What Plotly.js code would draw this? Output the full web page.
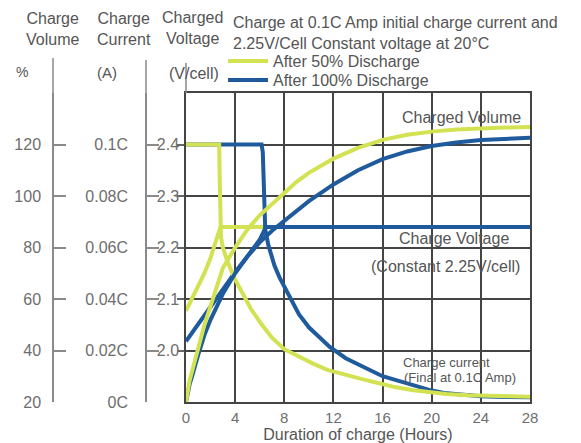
<!DOCTYPE html>
<html>
<head>
<meta charset="utf-8">
<script src="https://cdn.plot.ly/plotly-3.0.1.min.js"></script>
<style>
  html, body { margin: 0; padding: 0; background: #ffffff; }
  #chart { width: 581px; height: 443px; }
</style>
</head>
<body>
<div id="chart"></div>
<script>
// ---- Data ----
// Hours axis ticks
const hourTicks = [0, 4, 8, 12, 16, 20, 24, 28];

// Charge voltage (V/cell)
const voltHours50 = [0, 0.5, 1, 1.5, 2, 2.5, 2.8, 28];
const volt50      = [2.077, 2.1, 2.125, 2.15, 2.18, 2.215, 2.24, 2.24];
const voltHours100 = [0, 1, 2, 3, 4, 5, 6, 6.5, 28];
const volt100      = [2.018, 2.052, 2.087, 2.12, 2.152, 2.183, 2.215, 2.24, 2.24];

// Charge current (C)
const curHours50 = [0, 2.7, 2.75, 2.8, 2.85, 3, 3.34, 3.9, 4.7, 5.3, 6.1, 7, 8, 9, 10.3, 11.5, 13, 14.5, 15.8, 17, 18.5, 20, 21.2, 23, 25.3, 28];
const cur50      = [0.1, 0.1, 0.085, 0.072, 0.064, 0.06, 0.055, 0.0485, 0.041, 0.036, 0.0305, 0.025, 0.0205, 0.018, 0.015, 0.0125, 0.0104, 0.0087, 0.0072, 0.0058, 0.0046, 0.0037, 0.0031, 0.0026, 0.0023, 0.002];
const curHours100 = [0, 6.15, 6.25, 6.3, 6.35, 6.45, 6.7, 7.2, 7.6, 8, 9.2, 10, 11.7, 13, 14.4, 16, 17.1, 18.5, 19.8, 21, 22.5, 24, 25.3, 28];
const cur100      = [0.1, 0.1, 0.097, 0.085, 0.075, 0.067, 0.061, 0.053, 0.0485, 0.045, 0.034, 0.029, 0.0214, 0.017, 0.0137, 0.01, 0.0085, 0.0064, 0.0047, 0.0035, 0.0027, 0.0022, 0.002, 0.0018];

// Charged volume (%)
const volHours50 = [0, 0.15, 0.3, 0.5, 0.75, 1, 1.5, 2, 2.5, 3, 4, 5, 6, 7, 8, 9, 10, 12, 14, 16, 18, 20, 22, 24, 26, 28];
const vol50      = [20, 25, 28.5, 32, 37, 41, 50, 57, 65, 72, 80, 87, 92.5, 97, 101.5, 105.5, 109, 114.5, 118.7, 121.8, 123.8, 125, 125.8, 126.3, 126.6, 126.8];
const volHours100 = [0, 0.15, 0.3, 0.5, 0.75, 1, 1.5, 2, 3, 4, 5, 6, 7, 8, 9, 10, 12, 14, 16, 18, 20, 22, 24, 26, 28];
const vol100      = [20, 24, 27, 30, 34.5, 38.5, 46, 52, 62, 70, 76.5, 82, 86.5, 90.5, 94.5, 98, 104.5, 110, 114.3, 117.3, 119.4, 120.8, 121.7, 122.3, 122.6];

// Axis tick values / labels
const voltTicks = [2.0, 2.1, 2.2, 2.3, 2.4];
const voltLabels = ['2.0', '2.1', '2.2', '2.3', '2.4'];
const curTicks = [0, 0.02, 0.04, 0.06, 0.08, 0.1];
const curLabels = ['0C', '0.02C', '0.04C', '0.06C', '0.08C', '0.1C'];
const volTicks = [20, 40, 60, 80, 100, 120];
const volLabels = ['20', '40', '60', '80', '100', '120'];

const seriesNames = ['After 50% Discharge', 'After 100% Discharge'];

// ---- Styling ----
const YELLOW = '#d2e253';
const BLUE = '#1f5b9c';
const LW = 4;
const FONT = 'Liberation Sans, Arial, sans-serif';
const TXT = '#555555';
const TICK = '#6e6e6e';

function line(x, y, axis, color, name, show, group, leg) {
  return {
    x: x, y: y, yaxis: axis, type: 'scatter', mode: 'lines',
    line: { color: color, width: LW },
    name: name, showlegend: show, legendgroup: group, legend: leg, hoverinfo: 'skip'
  };
}

const traces = [
  line(voltHours50, volt50, 'y', YELLOW, seriesNames[0], true, 'g50', 'legend'),
  line(voltHours100, volt100, 'y', BLUE, seriesNames[1], true, 'g100', 'legend2'),
  line(volHours100, vol100, 'y3', BLUE, seriesNames[1], false, 'g100', 'legend2'),
  line(curHours100, cur100, 'y2', BLUE, seriesNames[1], false, 'g100', 'legend2'),
  line(volHours50, vol50, 'y3', YELLOW, seriesNames[0], false, 'g50', 'legend'),
  line(curHours50, cur50, 'y2', YELLOW, seriesNames[0], false, 'g50', 'legend')
];

// layout geometry (plot area from x=0 to 530 px, y 93..402 px)
const PW = 530, PTOP = 93, PBOT = 402, PH = PBOT - PTOP;
const px = p => p / PW;
const py = p => (PBOT - p) / PH;

function hdr(text, xpx, ypx, size) {
  return {
    text: text, xref: 'paper', yref: 'paper', x: px(xpx), y: py(ypx),
    xanchor: 'center', yanchor: 'middle', showarrow: false,
    font: { family: FONT, size: size || 16, color: TXT }
  };
}
function inPlot(text, x, y, size) {
  return {
    text: text, xref: 'x', yref: 'y', x: x, y: y,
    xanchor: 'center', yanchor: 'middle', showarrow: false,
    font: { family: FONT, size: size || 16, color: TXT }
  };
}
function legendBox(topPx) {
  return {
    x: px(223), xanchor: 'left', y: py(topPx), yanchor: 'top',
    bgcolor: 'rgba(0,0,0,0)', borderwidth: 0, tracegroupgap: 0,
    itemwidth: 40, font: { family: FONT, size: 16, color: TXT }
  };
}

const layout = {
  width: 581, height: 443,
  margin: { l: 0, r: 51, t: PTOP, b: 443 - PBOT },
  paper_bgcolor: '#ffffff', plot_bgcolor: '#ffffff',
  font: { family: FONT, color: TXT, size: 16 },
  title: {
    text: 'Charge at 0.1C Amp initial charge current and<br>2.25V/Cell Constant voltage at 20°C',
    x: 233 / 581, xanchor: 'left', xref: 'container',
    y: 1 - 28 / 443, yanchor: 'top', yref: 'container',
    font: { family: FONT, size: 16, color: TXT }
  },
  showlegend: true,
  legend: legendBox(44),
  legend2: legendBox(63),
  xaxis: {
    domain: [px(186), 1], range: [0, 28], tickvals: hourTicks,
    showgrid: true, gridcolor: '#444444', gridwidth: 1.5,
    showline: true, mirror: true, linecolor: '#444444', linewidth: 1.5,
    ticks: '', zeroline: false, ticklabelstandoff: 1,
    tickfont: { family: FONT, size: 15, color: TICK },
    title: { text: 'Duration of charge (Hours)', standoff: 0,
             font: { family: FONT, size: 16, color: TXT } },
    automargin: false, fixedrange: true
  },
  yaxis: {
    range: [1.9, 2.5], tickvals: voltTicks, ticktext: voltLabels,
    showgrid: true, gridcolor: '#444444', gridwidth: 1.5,
    showline: true, mirror: true, linecolor: '#444444', linewidth: 1.5,
    ticks: 'outside', ticklen: 7, tickcolor: '#666666', tickwidth: 1.5,
    ticklabelstandoff: -5,
    zeroline: false, automargin: false, fixedrange: true,
    tickfont: { family: FONT, size: 16, color: TICK }
  },
  yaxis2: {
    overlaying: 'y', anchor: 'free', position: px(146), side: 'left',
    range: [0, 0.12], tickvals: curTicks, ticktext: curLabels,
    showgrid: false, zeroline: false,
    showline: true, linecolor: '#8a8a8a', linewidth: 1.5,
    ticks: 'inside', ticklen: 12, tickcolor: '#8a8a8a', tickwidth: 1.5,
    ticklabelstandoff: 14, automargin: false, fixedrange: true,
    tickfont: { family: FONT, size: 16, color: TICK }
  },
  yaxis3: {
    overlaying: 'y', anchor: 'free', position: px(53), side: 'left',
    range: [20, 140], tickvals: volTicks, ticktext: volLabels,
    showgrid: false, zeroline: false,
    showline: true, linecolor: '#8a8a8a', linewidth: 1.5,
    ticks: 'inside', ticklen: 12, tickcolor: '#8a8a8a', tickwidth: 1.5,
    ticklabelstandoff: 8, automargin: false, fixedrange: true,
    tickfont: { family: FONT, size: 16, color: TICK }
  },
  shapes: [
    { type: 'line', xref: 'paper', yref: 'paper', x0: px(53), x1: px(53), y0: 1, y1: py(58),
      line: { color: '#8a8a8a', width: 1.5 } },
    { type: 'line', xref: 'paper', yref: 'paper', x0: px(146), x1: px(146), y0: 1, y1: py(60),
      line: { color: '#8a8a8a', width: 1.5 } },
    { type: 'line', xref: 'paper', yref: 'paper', x0: px(186), x1: px(186), y0: 1, y1: py(63),
      line: { color: '#8a8a8a', width: 1.5 } }
  ],
  annotations: [
    hdr('Charge<br>Volume', 52, 28.5), hdr('Charge<br>Current', 124, 28.5),
    hdr('Charged<br>Voltage', 192, 27.5),
    hdr('%', 22, 72, 14), hdr('(A)', 107, 72, 15), hdr('(V/cell)', 194, 73, 16),
    inPlot('Charged Volume', 22.4, 2.453),
    inPlot('Charge Voltage', 21.8, 2.218),
    inPlot('(Constant 2.25V/cell)', 21.1, 2.164),
    inPlot('Charge current', 21.2, 1.976, 13),
    inPlot('(Final at 0.1C Amp)', 22.3, 1.947, 13)
  ]
};

Plotly.newPlot('chart', traces, layout, { displayModeBar: false, responsive: false });
</script>
</body>
</html>
